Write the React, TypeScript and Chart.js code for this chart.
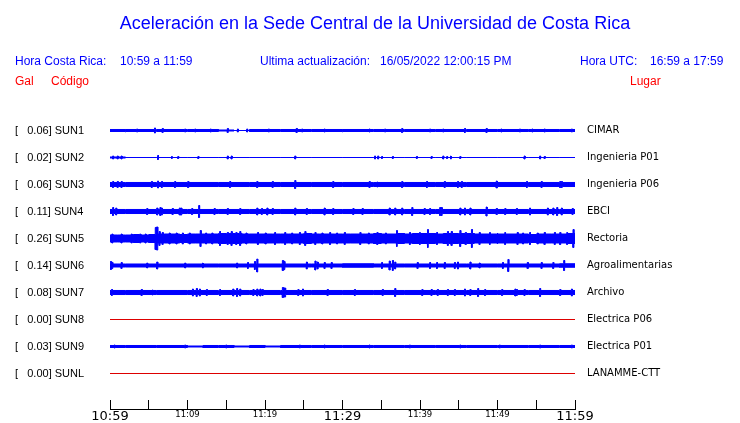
import React, { useEffect, useRef } from 'react';
import { Chart, registerables } from 'chart.js';

Chart.register(...registerables);

// ---------- text ----------
const TITLE = 'Aceleración en la Sede Central de la Universidad de Costa Rica';
const LOCAL_LABEL = 'Hora Costa Rica:';
const LOCAL_RANGE = '10:59 a 11:59';
const UPDATE_LABEL = 'Ultima actualización:';
const UPDATE_TIME = '16/05/2022 12:00:15 PM';
const UTC_LABEL = 'Hora UTC:';
const UTC_RANGE = '16:59 a 17:59';
const UNIT_LABEL = 'Gal';
const CODE_LABEL = 'Código';
const PLACE_LABEL = 'Lugar';

// ---------- categories ----------
const stationCodes = ['SUN1', 'SUN2', 'SUN3', 'SUN4', 'SUN5', 'SUN6', 'SUN7', 'SUN8', 'SUN9', 'SUNL'];
const stationPlaces = ['CIMAR', 'Ingenieria P01', 'Ingenieria P06', 'EBCI', 'Rectoria', 'Agroalimentarias', 'Archivo', 'Electrica P06', 'Electrica P01', 'LANAMME-CTT'];
const peakGal = [0.06, 0.02, 0.06, 0.11, 0.26, 0.14, 0.08, 0.0, 0.03, 0.0];
const stationActive = [true, true, true, true, true, true, true, false, true, false];

// ---------- time axis (minutes after 10:59) ----------
const tickMinutes = [0, 5, 10, 15, 20, 25, 30, 35, 40, 45, 50, 55, 60];
const tickLabels = ['10:59', '', '11:09', '', '11:19', '', '11:29', '', '11:39', '', '11:49', '', '11:59'];
const bigTickMinutes = [0, 30, 60];

// ---------- traces: envelope half-amplitude (Gal) per time bin + bursts [minute, Gal] ----------
const sun1Base = [0.028, 0.028, 0.028, 0.028, 0.028, 0.028, 0.028, 0.014, 0.0, 0.028, 0.028, 0.028, 0.028, 0.028, 0.028, 0.028, 0.028, 0.028, 0.028, 0.028, 0.028, 0.028, 0.028, 0.028, 0.028, 0.028, 0.028, 0.028, 0.028, 0.028];
const sun1Bursts = [[2.0, 0.042], [3.5, 0.042], [5.8, 0.07], [6.8, 0.056], [9.7, 0.042], [11.0, 0.042], [13.0, 0.042], [15.2, 0.056], [16.5, 0.042], [17.7, 0.042], [20.5, 0.042], [24.1, 0.056], [24.8, 0.042], [27.7, 0.042], [30.0, 0.042], [33.5, 0.042], [35.5, 0.042], [37.7, 0.056], [41.3, 0.042], [43.0, 0.042], [45.8, 0.056], [48.6, 0.056], [50.5, 0.042], [52.9, 0.042], [54.5, 0.042], [56.1, 0.042], [59.6, 0.042]];

const sun2Base = [0.014, 0, 0, 0, 0, 0, 0, 0, 0, 0, 0, 0, 0, 0, 0, 0, 0, 0, 0, 0, 0, 0, 0, 0, 0, 0, 0, 0, 0, 0];
const sun2Bursts = [[0.4, 0.042], [1.0, 0.042], [1.5, 0.042], [6.2, 0.056], [8.0, 0.028], [8.8, 0.028], [11.4, 0.028], [15.2, 0.042], [15.7, 0.042], [23.9, 0.042], [34.2, 0.042], [34.6, 0.042], [35.1, 0.028], [36.5, 0.028], [39.6, 0.028], [41.5, 0.028], [43.0, 0.042], [43.5, 0.028], [44.0, 0.042], [45.2, 0.028], [53.5, 0.042], [55.5, 0.042], [56.1, 0.028]];

const sun3Base = [0.056, 0.056, 0.056, 0.056, 0.056, 0.056, 0.056, 0.056, 0.056, 0.056, 0.056, 0.056, 0.056, 0.056, 0.056, 0.056, 0.056, 0.056, 0.056, 0.056, 0.056, 0.056, 0.056, 0.056, 0.056, 0.056, 0.056, 0.056, 0.056, 0.056];
const sun3Bursts = [[0.4, 0.083], [1.0, 0.083], [1.5, 0.083], [5.4, 0.083], [6.2, 0.097], [6.7, 0.083], [8.4, 0.083], [10.1, 0.083], [15.5, 0.083], [19.0, 0.083], [21.0, 0.083], [23.9, 0.111], [28.8, 0.083], [33.5, 0.083], [34.5, 0.069], [37.7, 0.083], [40.9, 0.083], [43.2, 0.083], [44.9, 0.083], [45.4, 0.083], [49.9, 0.097], [53.8, 0.083], [55.7, 0.083], [58.1, 0.083], [58.3, 0.083]];

const sun4Base = [0.056, 0.056, 0.056, 0.056, 0.056, 0.056, 0.056, 0.056, 0.056, 0.056, 0.056, 0.056, 0.056, 0.056, 0.056, 0.056, 0.056, 0.056, 0.056, 0.056, 0.056, 0.056, 0.056, 0.056, 0.056, 0.056, 0.056, 0.056, 0.056, 0.056];
const sun4Bursts = [[0.4, 0.111], [0.8, 0.097], [4.8, 0.083], [6.1, 0.097], [6.5, 0.111], [6.7, 0.097], [8.1, 0.083], [9.0, 0.097], [9.2, 0.097], [10.6, 0.083], [11.5, 0.167], [13.5, 0.083], [15.2, 0.083], [16.8, 0.083], [19.0, 0.097], [19.6, 0.083], [20.3, 0.097], [21.0, 0.083], [23.9, 0.097], [25.4, 0.083], [27.7, 0.097], [28.8, 0.083], [31.4, 0.083], [32.6, 0.083], [36.1, 0.097], [36.8, 0.097], [37.7, 0.097], [39.0, 0.111], [40.6, 0.083], [41.3, 0.083], [42.6, 0.111], [42.8, 0.111], [45.2, 0.097], [45.8, 0.097], [46.5, 0.097], [48.6, 0.125], [49.9, 0.083], [51.0, 0.083], [52.5, 0.083], [54.2, 0.097], [56.5, 0.097], [57.2, 0.097], [57.7, 0.111], [58.3, 0.097], [59.7, 0.083]];

const sun5Base = [0.097, 0.097, 0.097, 0.111, 0.097, 0.111, 0.125, 0.125, 0.125, 0.111, 0.125, 0.125, 0.125, 0.125, 0.139, 0.139, 0.139, 0.125, 0.125, 0.125, 0.125, 0.125, 0.125, 0.125, 0.125, 0.139, 0.125, 0.125, 0.125, 0.125, 0.125, 0.125, 0.125, 0.125, 0.139, 0.125, 0.125, 0.139, 0.125, 0.139, 0.139, 0.139, 0.125, 0.139, 0.139, 0.139, 0.139, 0.125, 0.125, 0.125, 0.125, 0.125, 0.125, 0.125, 0.111, 0.125, 0.125, 0.125, 0.125, 0.139];
const sun5Bursts = [[0.3, 0.125], [1.5, 0.125], [2.8, 0.125], [3.9, 0.125], [4.6, 0.125], [5.9, 0.306], [6.1, 0.32], [6.4, 0.194], [6.8, 0.167], [7.7, 0.153], [8.6, 0.153], [9.4, 0.153], [10.3, 0.153], [11.7, 0.222], [12.4, 0.153], [13.2, 0.153], [14.2, 0.194], [15.2, 0.167], [15.7, 0.194], [16.3, 0.167], [16.8, 0.194], [17.6, 0.153], [19.1, 0.167], [20.1, 0.153], [21.3, 0.167], [22.6, 0.167], [23.5, 0.153], [24.5, 0.167], [25.2, 0.194], [26.5, 0.167], [27.4, 0.153], [28.4, 0.167], [29.3, 0.153], [30.3, 0.167], [32.3, 0.167], [33.4, 0.153], [34.5, 0.167], [35.6, 0.153], [37.0, 0.222], [38.7, 0.167], [40.0, 0.167], [41.0, 0.25], [42.2, 0.167], [43.6, 0.194], [44.1, 0.194], [45.2, 0.222], [45.9, 0.167], [46.7, 0.25], [47.7, 0.167], [49.0, 0.167], [50.0, 0.153], [51.0, 0.167], [52.6, 0.167], [53.3, 0.153], [54.2, 0.167], [55.2, 0.153], [56.1, 0.167], [57.4, 0.167], [58.1, 0.167], [59.0, 0.167], [59.8, 0.25]];

const sun6Base = [0.042, 0.042, 0.042, 0.042, 0.042, 0.042, 0.042, 0.042, 0.042, 0.042, 0.042, 0.042, 0.042, 0.042, 0.042, 0.049, 0.049, 0.042, 0.042, 0.042, 0.042, 0.042, 0.042, 0.042, 0.042, 0.042, 0.042, 0.042, 0.042, 0.049];
const sun6Bursts = [[0.1, 0.111], [0.3, 0.083], [1.5, 0.083], [4.8, 0.069], [6.1, 0.097], [9.7, 0.069], [12.0, 0.069], [16.4, 0.069], [17.8, 0.083], [18.7, 0.111], [19.0, 0.18], [22.3, 0.139], [22.5, 0.111], [25.4, 0.097], [26.5, 0.125], [26.8, 0.097], [27.7, 0.083], [28.6, 0.083], [35.1, 0.083], [36.1, 0.125], [36.5, 0.139], [36.8, 0.097], [39.7, 0.083], [41.3, 0.083], [42.2, 0.083], [43.2, 0.083], [44.5, 0.083], [44.9, 0.097], [46.5, 0.097], [47.7, 0.069], [50.7, 0.083], [51.4, 0.167], [53.9, 0.083], [55.7, 0.083], [57.2, 0.083], [58.6, 0.139]];

const sun7Base = [0.056, 0.056, 0.056, 0.056, 0.056, 0.056, 0.056, 0.056, 0.056, 0.056, 0.056, 0.056, 0.056, 0.056, 0.056, 0.056, 0.056, 0.056, 0.056, 0.056, 0.056, 0.056, 0.056, 0.056, 0.056, 0.056, 0.056, 0.056, 0.056, 0.056];
const sun7Bursts = [[0.25, 0.083], [4.1, 0.083], [5.5, 0.069], [10.7, 0.097], [11.2, 0.111], [11.6, 0.097], [12.5, 0.083], [14.2, 0.083], [15.9, 0.097], [16.4, 0.111], [16.8, 0.097], [18.5, 0.083], [19.0, 0.097], [19.4, 0.097], [19.7, 0.083], [22.3, 0.139], [22.5, 0.125], [22.6, 0.125], [24.3, 0.083], [24.9, 0.097], [28.1, 0.083], [31.6, 0.083], [35.2, 0.083], [36.8, 0.111], [40.3, 0.083], [41.5, 0.083], [42.3, 0.083], [43.6, 0.083], [44.5, 0.083], [45.8, 0.097], [46.5, 0.083], [47.5, 0.111], [48.4, 0.083], [50.6, 0.083], [52.3, 0.097], [52.5, 0.083], [53.5, 0.083], [55.5, 0.111], [58.1, 0.083], [59.6, 0.097]];

const sun8Base = [0];
const sun8Bursts: number[][] = [];

const sun9Base = [0.028, 0.028, 0.028, 0.028, 0.028, 0.014, 0.028, 0.028, 0.014, 0.028, 0.014, 0.028, 0.028, 0.028, 0.028, 0.028, 0.028, 0.028, 0.028, 0.028, 0.028, 0.028, 0.028, 0.028, 0.028, 0.028, 0.028, 0.028, 0.028, 0.028];
const sun9Bursts = [[0.6, 0.042], [9.7, 0.042], [15.0, 0.042], [24.5, 0.042], [27.7, 0.042], [33.5, 0.042], [38.7, 0.042], [45.2, 0.042], [50.3, 0.042], [55.5, 0.042], [59.6, 0.042]];

const sunLBase = [0];
const sunLBursts: number[][] = [];

const traceBases = [sun1Base, sun2Base, sun3Base, sun4Base, sun5Base, sun6Base, sun7Base, sun8Base, sun9Base, sunLBase];
const traceBursts = [sun1Bursts, sun2Bursts, sun3Bursts, sun4Bursts, sun5Bursts, sun6Bursts, sun7Bursts, sun8Bursts, sun9Bursts, sunLBursts];

// ---------- geometry of the stacked display (Gal) ----------
const SLOT = 0.75; // vertical offset between traces, in Gal
const HALF_PX = 0.5 / 36;
const Y_MAX = SLOT + HALF_PX;
const Y_MIN = Y_MAX - 8.25;
const BURST_W = 0.12; // minutes
const SPAN = 60;

function envelope(base: number[], bursts: number[][]) {
  const binW = SPAN / base.length;
  const edges = new Set<number>([0, SPAN]);
  base.forEach((_, k) => edges.add(k * binW));
  bursts.forEach(([m]) => {
    edges.add(Math.max(0, m - BURST_W / 2));
    edges.add(Math.min(SPAN, m + BURST_W / 2));
  });
  const xs = Array.from(edges).sort((a, b) => a - b);
  const pts: [number, number][] = [];
  for (let j = 0; j < xs.length - 1; j++) {
    const x0 = xs[j];
    const x1 = xs[j + 1];
    if (x1 - x0 < 1e-9) continue;
    const mid = (x0 + x1) / 2;
    let a = base[Math.min(base.length - 1, Math.floor(mid / binW))];
    for (const [m, amp] of bursts) {
      if (Math.abs(mid - m) <= BURST_W / 2) a = Math.max(a, amp);
    }
    pts.push([x0, a], [x1, a]);
  }
  return pts;
}

const headerPlugin = {
  id: 'seisHeader',
  afterDraw(chart: any) {
    const { ctx, chartArea } = chart;
    ctx.save();
    ctx.textBaseline = 'alphabetic';
    ctx.fillStyle = '#0000ff';
    ctx.font = '18px "Liberation Sans"';
    ctx.textAlign = 'center';
    ctx.fillText(TITLE, 375, 29);
    ctx.textAlign = 'left';
    ctx.font = '12px "Liberation Sans"';
    ctx.fillText(LOCAL_LABEL, 15, 65);
    ctx.fillText(LOCAL_RANGE, 120, 65);
    ctx.fillText(UPDATE_LABEL, 260, 65);
    ctx.fillText(UPDATE_TIME, 380, 65);
    ctx.fillText(UTC_LABEL, 580, 65);
    ctx.fillText(UTC_RANGE, 650, 65);
    ctx.fillStyle = '#ff0000';
    ctx.fillText(UNIT_LABEL, 15, 85);
    ctx.fillText(CODE_LABEL, 51, 85);
    ctx.fillText(PLACE_LABEL, 630, 85);
    // time axis base line
    ctx.strokeStyle = '#000000';
    ctx.lineWidth = 1;
    ctx.beginPath();
    ctx.moveTo(chartArea.left, chartArea.bottom + 9.5);
    ctx.lineTo(chartArea.right + 1, chartArea.bottom + 9.5);
    ctx.stroke();
    ctx.restore();
  },
};

export default function App() {
  const canvasRef = useRef<HTMLCanvasElement | null>(null);

  useEffect(() => {
    if (!canvasRef.current) return;
    const centers = stationCodes.map((_, i) => -SLOT * i);
    const leftLabels = stationCodes.map((c, i) => `[   ${peakGal[i].toFixed(2)}] ${c}`);
    const datasets: any[] = [];
    stationCodes.forEach((code, i) => {
      const color = stationActive[i] ? '#0000ff' : '#dd0000';
      const pts = envelope(traceBases[i], traceBursts[i]);
      const c = centers[i];
      const common = {
        type: 'line',
        borderColor: color,
        backgroundColor: color,
        borderWidth: 1,
        pointRadius: 0,
        tension: 0,
        xAxisID: 'x',
        yAxisID: 'y',
      };
      datasets.push({ ...common, label: code + ' +', data: pts.map(([x, a]) => ({ x, y: c + a })), fill: false });
      datasets.push({ ...common, label: code + ' -', data: pts.map(([x, a]) => ({ x, y: c - a })), fill: '-1' });
    });

    const chart = new Chart(canvasRef.current, {
      type: 'line',
      data: { datasets },
      plugins: [headerPlugin],
      options: {
        animation: false,
        responsive: false,
        devicePixelRatio: 1,
        layout: { padding: { left: 15, right: 0, top: 103, bottom: 0 } },
        plugins: { legend: { display: false }, tooltip: { enabled: false }, title: { display: false } },
        scales: {
          x: {
            type: 'linear',
            position: 'bottom',
            min: 0,
            max: SPAN,
            afterBuildTicks: (axis: any) => {
              axis.ticks = tickMinutes.map((v) => ({ value: v }));
            },
            afterFit: (scale: any) => {
              scale.height = 23;
            },
            border: { display: false },
            grid: { drawOnChartArea: false, drawTicks: true, tickLength: 9, color: '#000000', lineWidth: 1 },
            ticks: {
              autoSkip: false,
              maxRotation: 0,
              minRotation: 0,
              padding: 0,
              color: '#000000',
              callback: (_v: any, i: number) => tickLabels[i],
              font: (ctx: any) => {
                const v = ctx && ctx.tick ? ctx.tick.value : 0;
                return bigTickMinutes.includes(v)
                  ? { family: 'DejaVu Sans', size: 13, lineHeight: 1.23 }
                  : { family: 'DejaVu Sans', size: 8.5, lineHeight: 1.41 };
              },
            },
          },
          y: {
            type: 'linear',
            position: 'left',
            min: Y_MIN,
            max: Y_MAX,
            afterBuildTicks: (axis: any) => {
              axis.ticks = centers.map((v) => ({ value: v }));
            },
            afterFit: (scale: any) => {
              scale.width = 95;
            },
            border: { display: false },
            grid: { display: false, drawTicks: false },
            ticks: {
              autoSkip: false,
              crossAlign: 'far',
              padding: 0,
              color: '#000000',
              font: { family: 'Liberation Sans', size: 11 },
              callback: (_v: any, i: number) => leftLabels[i],
            },
          },
          y2: {
            type: 'linear',
            position: 'right',
            min: Y_MIN,
            max: Y_MAX,
            afterBuildTicks: (axis: any) => {
              axis.ticks = centers.map((v) => ({ value: v }));
            },
            afterFit: (scale: any) => {
              scale.width = 165;
            },
            border: { display: false },
            grid: { display: false, drawTicks: false },
            ticks: {
              autoSkip: false,
              crossAlign: 'near',
              padding: 12,
              color: '#000000',
              font: { family: 'DejaVu Sans', size: 10 },
              callback: (_v: any, i: number) => stationPlaces[i],
            },
          },
        },
      } as any,
    });
    return () => chart.destroy();
  }, []);

  return (
    <div style={{ position: 'fixed', left: 0, top: 0, width: 740, height: 423, background: '#ffffff' }}>
      <canvas ref={canvasRef} width={740} height={423} style={{ width: 740, height: 423, display: 'block' }} />
    </div>
  );
}
